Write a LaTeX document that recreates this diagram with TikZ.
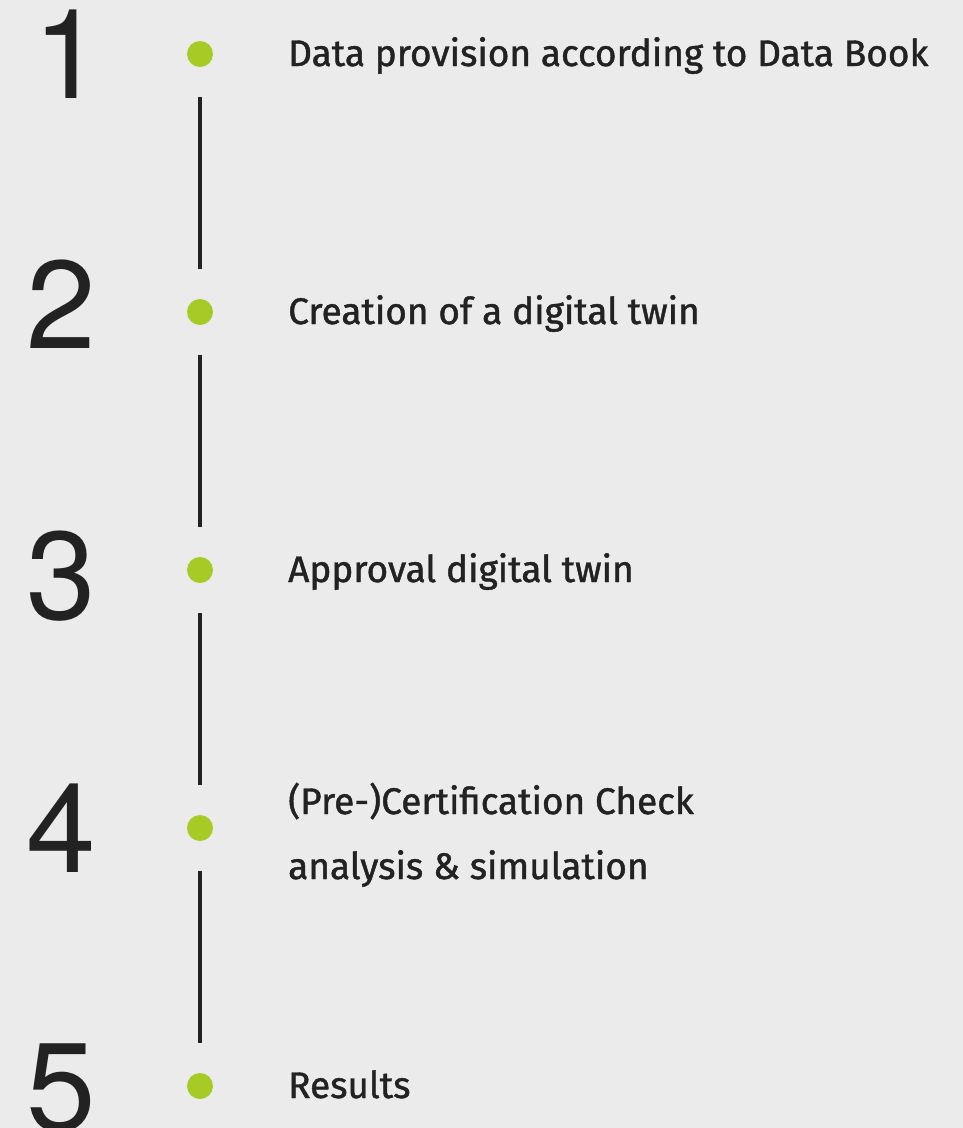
\documentclass[tikz,border=0pt]{standalone}
\usepackage{fontspec}
\usepackage{tikz}
\usetikzlibrary{positioning}

\newfontfamily\stepfont{Fira Sans}[FakeBold=1.2]
\newfontfamily\numfont{TeX Gyre Heros}

\definecolor{bggray}{HTML}{EBEBEB}
\definecolor{dotgreen}{HTML}{A6CB25}
\definecolor{inkgray}{HTML}{222222}

\begin{document}
\begin{tikzpicture}[x=1pt,y=-1pt,node distance=258pt,
  dot/.style={circle,fill=dotgreen,minimum size=26pt,inner sep=0pt},
  num/.style={text=inkgray,inner sep=0pt,font=\numfont\fontsize{125}{125}\selectfont},
  steptext/.style={text=inkgray,inner sep=0pt,anchor=base west,align=left,
    font=\stepfont\fontsize{37}{65}\selectfont},
  link/.style={draw=inkgray,line width=4pt,shorten <=30pt,shorten >=30pt}]

\fill[bggray] (0,0) rectangle (963,1128);
\useasboundingbox (0,0) rectangle (963,1128);

\node[dot] (d_1) at (200,54) {};
\node[dot] (d_2) [below of=d_1] {};
\node[dot] (d_3) [below of=d_2] {};
\node[dot] (d_4) [below of=d_3] {};
\node[dot] (d_5) [below of=d_4] {};

\node[num] (n_1) at ([xshift=-132pt]d_1) {1};
\node[num] (n_2) at ([xshift=-139pt,yshift=8pt]d_2) {2};
\node[num] (n_3) at ([xshift=-139pt,yshift=-6pt]d_3) {3};
\node[num] (n_4) at ([xshift=-139pt]d_4) {4};
\node[num] (n_5) at ([xshift=-139pt,yshift=-2pt]d_5) {5};

\node[steptext] (t_1) at ([xshift=88pt,yshift=-12pt]d_1) {Data provision according to Data Book};
\node[steptext] (t_2) at ([xshift=88pt,yshift=-12pt]d_2) {Creation of a digital twin};
\node[steptext] (t_3) at ([xshift=88pt,yshift=-12pt]d_3) {Approval digital twin};
\node[steptext] (t_4) at ([xshift=88pt,yshift=-51pt]d_4) {(Pre-)Certification Check\\analysis \& simulation};
\node[steptext] (t_5) at ([xshift=88pt,yshift=-12pt]d_5) {Results};

\path (d_1) edge[link] (d_2)
  (d_2) edge[link] (d_3)
  (d_3) edge[link] (d_4)
  (d_4) edge[link] (d_5);

\end{tikzpicture}
\end{document}
